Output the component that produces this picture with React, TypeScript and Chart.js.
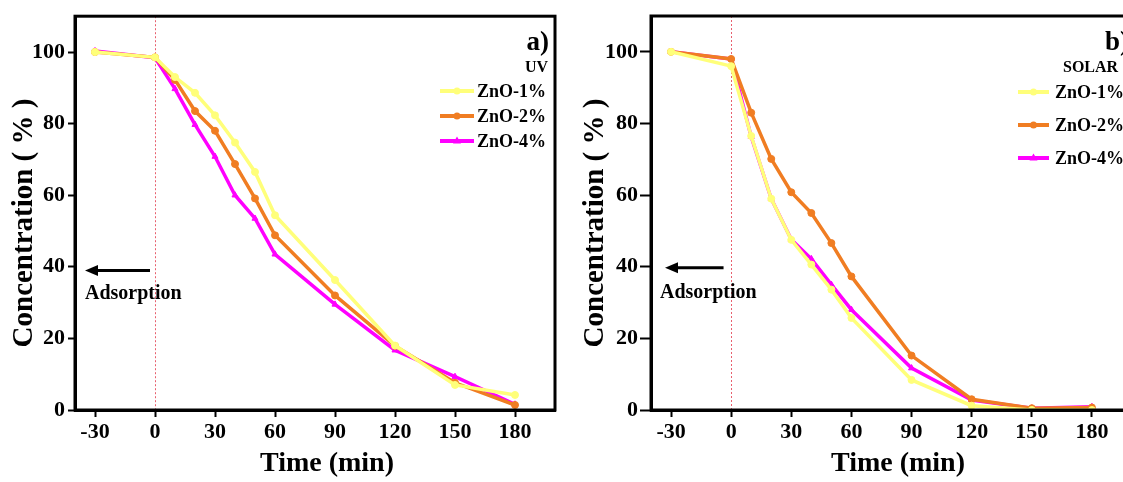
import React, { useEffect, useRef } from "react";
import { Chart, registerables } from "chart.js";

Chart.register(...registerables);

// ---------- data ----------
const timePoints = [-30, 0, 10, 20, 30, 40, 50, 60, 90, 120, 150, 180];
const xTickValues = [-30, 0, 30, 60, 90, 120, 150, 180];
const yTickValues = [0, 20, 40, 60, 80, 100];
const seriesNames = ["ZnO-1%", "ZnO-2%", "ZnO-4%"];

const uvZnO1 = [100, 98.5, 93, 88.6, 82.3, 74.7, 66.5, 54.4, 36.3, 18, 7, 4.2];
const uvZnO2 = [100, 98.5, 92.2, 83.5, 78, 68.7, 59.1, 48.8, 32, 17.9, 7.6, 1.4];
const uvZnO4 = [100.3, 98.4, 89.7, 79.7, 70.8, 60, 53.5, 43.5, 29.5, 16.7, 9.3, 1.6];

const solarZnO1 = [100, 96, 76.5, 59, 47.5, 40.6, 33.6, 25.7, 8.4, 1.2, 0, 0];
const solarZnO2 = [100, 98, 83, 70.1, 60.8, 55, 46.6, 37.3, 15.2, 3, 0.5, 0.7];
const solarZnO4 = [100, 98, 76.3, 59, 47.6, 42.2, 35, 28, 11.7, 2.8, 0.5, 0.9];

// ---------- styles ----------
const COLORS = ["#FFFF7A", "#F07D22", "#FF00FF"];
const POINT_STYLES = ["circle", "circle", "triangle"];
const FONT = "'Liberation Serif', 'Times New Roman', serif";

type PanelCfg = {
  left: number;
  width: number;
  height: number;
  padRight: number;
  padTop: number;
  yAxisWidth: number;
  xAxisHeight: number;
  yTickLength: number;
  yTickPad: number;
  series: number[][];
  yTitleX: number;
  xTitleX: number;
  letter: string;
  letterX: number;
  letterAlign: CanvasTextAlign;
  lamp: string;
  lampX: number;
  lampAlign: CanvasTextAlign;
  legendYs: number[];
  legendLineX: [number, number];
  legendTextX: number;
  arrowFrom: number;
  arrowTo: number;
  arrowY: number;
  textX: number;
  textY: number;
};

function makeDecor(cfg: PanelCfg) {
  return {
    id: "decor",
    beforeDatasetsDraw(chart: any) {
      const { ctx, chartArea: a, scales } = chart;
      const x0 = Math.round(scales.x.getPixelForValue(0)) + 0.5;
      ctx.save();
      ctx.strokeStyle = "#E8606E";
      ctx.lineWidth = 1;
      ctx.setLineDash([2, 2]);
      ctx.beginPath();
      ctx.moveTo(x0, a.top);
      ctx.lineTo(x0, a.bottom);
      ctx.stroke();
      ctx.restore();
    },
    afterDraw(chart: any) {
      const { ctx, chartArea: a, scales } = chart;
      ctx.save();
      // frame
      ctx.strokeStyle = "#000";
      ctx.lineWidth = 3;
      ctx.strokeRect(a.left, a.top, a.right - a.left, a.bottom - a.top);

      // arrow
      const ax1 = scales.x.getPixelForValue(cfg.arrowFrom);
      const ax2 = scales.x.getPixelForValue(cfg.arrowTo);
      const ay = scales.y.getPixelForValue(cfg.arrowY);
      ctx.lineWidth = 3;
      ctx.beginPath();
      ctx.moveTo(ax1, ay);
      ctx.lineTo(ax2 + 8, ay);
      ctx.stroke();
      ctx.fillStyle = "#000";
      ctx.beginPath();
      ctx.moveTo(ax2, ay);
      ctx.lineTo(ax2 + 13, ay - 5.5);
      ctx.lineTo(ax2 + 13, ay + 5.5);
      ctx.closePath();
      ctx.fill();

      ctx.font = `bold 20px ${FONT}`;
      ctx.textAlign = "left";
      ctx.textBaseline = "middle";
      ctx.fillText(
        "Adsorption",
        scales.x.getPixelForValue(cfg.textX),
        scales.y.getPixelForValue(cfg.textY)
      );

      // letter + lamp
      ctx.font = `bold 27px ${FONT}`;
      ctx.textAlign = cfg.letterAlign;
      ctx.fillText(cfg.letter, cfg.letterX, 43);
      ctx.font = `bold 16px ${FONT}`;
      ctx.textAlign = cfg.lampAlign;
      ctx.fillText(cfg.lamp, cfg.lampX, 68);

      // legend
      ctx.font = `bold 18px ${FONT}`;
      ctx.textAlign = "left";
      cfg.legendYs.forEach((ly, i) => {
        ctx.strokeStyle = COLORS[i];
        ctx.fillStyle = COLORS[i];
        ctx.lineWidth = 4;
        ctx.beginPath();
        ctx.moveTo(cfg.legendLineX[0], ly);
        ctx.lineTo(cfg.legendLineX[1], ly);
        ctx.stroke();
        const mx = (cfg.legendLineX[0] + cfg.legendLineX[1]) / 2;
        ctx.beginPath();
        if (POINT_STYLES[i] === "triangle") {
          ctx.moveTo(mx, ly - 4.5);
          ctx.lineTo(mx + 4, ly + 2.5);
          ctx.lineTo(mx - 4, ly + 2.5);
          ctx.closePath();
        } else {
          ctx.arc(mx, ly, 3.5, 0, Math.PI * 2);
        }
        ctx.fill();
        ctx.fillStyle = "#000";
        ctx.fillText(seriesNames[i], cfg.legendTextX, ly + 1);
      });

      // axis titles
      ctx.fillStyle = "#000";
      ctx.font = `bold 28px ${FONT}`;
      ctx.textAlign = "center";
      ctx.textBaseline = "middle";
      ctx.fillText("Time (min)", cfg.xTitleX, 464);
      ctx.save();
      ctx.translate(cfg.yTitleX, 223);
      ctx.rotate(-Math.PI / 2);
      ctx.font = `bold 29px ${FONT}`;
      ctx.fillText("Concentration ( % )", 0, 0);
      ctx.restore();

      ctx.restore();
    },
  };
}

function Panel({ cfg }: { cfg: PanelCfg }) {
  const ref = useRef<HTMLCanvasElement | null>(null);
  useEffect(() => {
    if (!ref.current) return;
    const tickFont = { family: FONT, size: 22, weight: "bold" as const };
    const chart = new Chart(ref.current, {
      type: "line",
      data: {
        datasets: cfg.series.map((vals, i) => ({
          label: seriesNames[i],
          data: timePoints.map((t, k) => ({ x: t, y: vals[k] })),
          borderColor: COLORS[i],
          backgroundColor: COLORS[i],
          borderWidth: 3.5,
          pointStyle: POINT_STYLES[i] as any,
          pointRadius: 3.5,
          pointBorderWidth: 1,
          pointBackgroundColor: COLORS[i],
          pointBorderColor: COLORS[i],
          tension: 0,
          fill: false,
        })),
      },
      options: {
        animation: false,
        responsive: false,
        devicePixelRatio: 1,
        layout: { padding: { left: 0, right: cfg.padRight, top: cfg.padTop, bottom: 0 } },
        plugins: { legend: { display: false }, tooltip: { enabled: false }, title: { display: false } },
        scales: {
          x: {
            type: "linear",
            min: -40,
            max: 200,
            afterBuildTicks: (s: any) => {
              s.ticks = xTickValues.map((v) => ({ value: v }));
            },
            afterFit: (s: any) => {
              s.height = cfg.xAxisHeight;
            },
            ticks: { font: tickFont, color: "#000", padding: 2, maxRotation: 0, autoSkip: false },
            grid: { display: true, drawOnChartArea: false, drawTicks: true, tickLength: 7, tickWidth: 2, tickColor: "#000" },
            border: { display: true, color: "#000", width: 3 },
          },
          y: {
            type: "linear",
            min: 0,
            max: 110,
            afterBuildTicks: (s: any) => {
              s.ticks = yTickValues.map((v) => ({ value: v }));
            },
            afterFit: (s: any) => {
              s.width = cfg.yAxisWidth;
            },
            ticks: { font: tickFont, color: "#000", padding: cfg.yTickPad, autoSkip: false },
            grid: { display: true, drawOnChartArea: false, drawTicks: true, tickLength: cfg.yTickLength, tickWidth: 2, tickColor: "#000" },
            border: { display: true, color: "#000", width: 3 },
          },
        },
      },
      plugins: [makeDecor(cfg)],
    });
    return () => chart.destroy();
  }, [cfg]);
  return (
    <canvas
      ref={ref}
      width={cfg.width}
      height={cfg.height}
      style={{ position: "absolute", left: cfg.left, top: 0, width: cfg.width, height: cfg.height }}
    />
  );
}

const uvPanel: PanelCfg = {
  left: 0,
  width: 566,
  height: 482,
  padRight: 11,
  padTop: 16,
  yAxisWidth: 75,
  xAxisHeight: 72,
  yTickLength: 7,
  yTickPad: 3,
  series: [uvZnO1, uvZnO2, uvZnO4],
  yTitleX: 25,
  xTitleX: 327,
  letter: "a)",
  letterX: 549,
  letterAlign: "right",
  lamp: "UV",
  lampX: 548,
  lampAlign: "right",
  legendYs: [91, 116, 141],
  legendLineX: [440, 474],
  legendTextX: 477,
  arrowFrom: -2.5,
  arrowTo: -35,
  arrowY: 39,
  textX: -35,
  textY: 32.5,
};

const solarPanel: PanelCfg = {
  left: 565,
  width: 580,
  height: 482,
  padRight: 13,
  padTop: 16,
  yAxisWidth: 86,
  xAxisHeight: 72,
  yTickLength: 11,
  yTickPad: 2,
  series: [solarZnO1, solarZnO2, solarZnO4],
  yTitleX: 31,
  xTitleX: 333,
  letter: "b)",
  letterX: 540,
  letterAlign: "left",
  lamp: "SOLAR",
  lampX: 498,
  lampAlign: "left",
  legendYs: [92, 125, 158],
  legendLineX: [453, 484],
  legendTextX: 490,
  arrowFrom: -3.8,
  arrowTo: -33,
  arrowY: 39.7,
  textX: -35.5,
  textY: 32.7,
};

export default function App() {
  return (
    <div
      style={{
        position: "fixed",
        left: 0,
        top: 0,
        width: 1123,
        height: 482,
        overflow: "hidden",
        background: "#fff",
      }}
    >
      <Panel cfg={uvPanel} />
      <Panel cfg={solarPanel} />
    </div>
  );
}
